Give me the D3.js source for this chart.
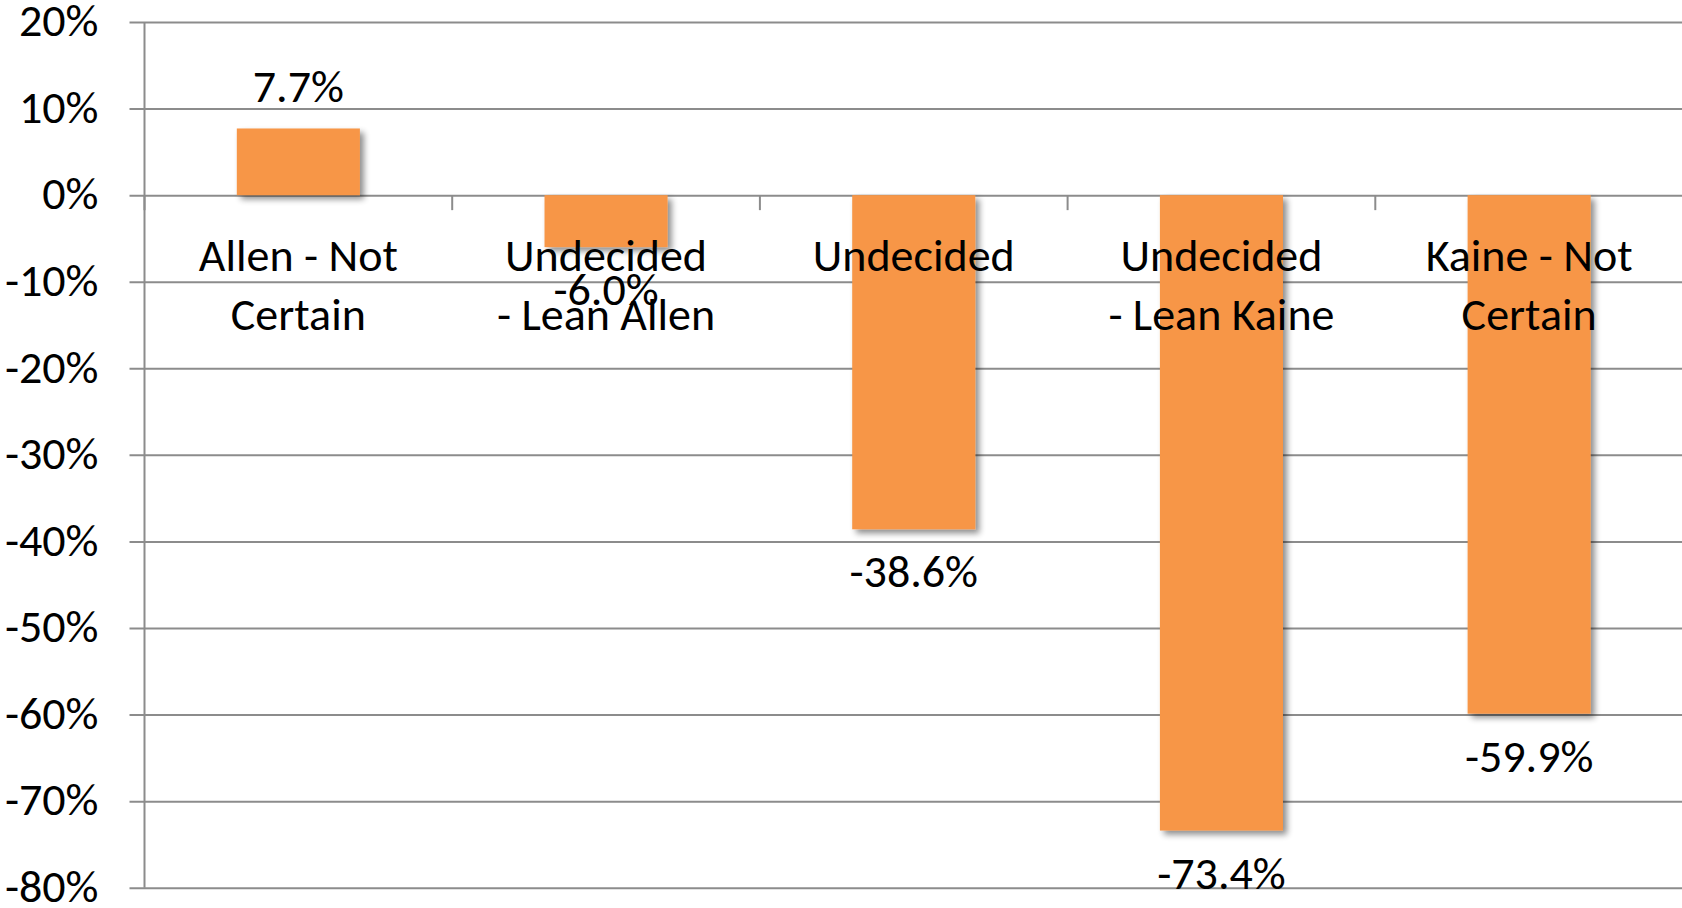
<!DOCTYPE html>
<html>
<head>
<meta charset="utf-8">
<script src="https://cdn.jsdelivr.net/npm/d3@7"></script>
<style>
  body { margin: 0; background: #fff; }
  svg text { font-family: Calibri, Carlito, Lato, sans-serif; fill: #000; }
</style>
</head>
<body>
<svg id="chart" width="1682" height="908"></svg>
<script>
'use strict';

// data
var categories = ['Allen - Not Certain', 'Undecided - Lean Allen', 'Undecided', 'Undecided - Lean Kaine', 'Kaine - Not Certain'];
var labelLines = [['Allen - Not', 'Certain'], ['Undecided', '- Lean Allen'], ['Undecided'], ['Undecided', '- Lean Kaine'], ['Kaine - Not', 'Certain']];
var values = [0.077, -0.060, -0.386, -0.734, -0.599];
var yTicks = [0.2, 0.1, 0, -0.1, -0.2, -0.3, -0.4, -0.5, -0.6, -0.7, -0.8];

var chartWidth = 1682,
  plotLeft = 144.5,
  plotTop = 22,
  plotBottom = 887.7,
  fontSize = 46;

// excel style hyphen minus
var locale = d3.formatLocale({ decimal: '.', thousands: ',', grouping: [3], currency: ['$', ''], minus: '-' });
var pct0 = locale.format('.0%'),
  pct1 = locale.format('.1%');

var svg = d3.select('#chart');

var y = d3.scaleLinear().domain([-0.8, 0.2]).range([plotBottom, plotTop]);
var x = d3.scaleBand().domain(categories).range([plotLeft, chartWidth + 1])
  .paddingInner(0.6).paddingOuter(0.3);
var step = x.step();

// drop shadow for bars
var filter = svg.append('defs').append('filter')
  .attr('id', 'shadow')
  .attr('x', '-20%').attr('y', '-20%')
  .attr('width', '150%').attr('height', '150%');
filter.append('feGaussianBlur')
  .attr('in', 'SourceAlpha')
  .attr('stdDeviation', 3)
  .attr('result', 'blur');
filter.append('feOffset')
  .attr('in', 'blur')
  .attr('dx', 4).attr('dy', 4)
  .attr('result', 'off');
filter.append('feComponentTransfer')
  .attr('in', 'off').attr('result', 'soft')
  .append('feFuncA').attr('type', 'linear').attr('slope', 0.45);
var merge = filter.append('feMerge');
merge.append('feMergeNode').attr('in', 'soft');
merge.append('feMergeNode').attr('in', 'SourceGraphic');

// gridlines + y axis
var yAxis = d3.axisLeft(y)
  .tickValues(yTicks)
  .tickSize(-(chartWidth - plotLeft))
  .tickPadding(0)
  .tickFormat(pct0);

var gy = svg.append('g')
  .attr('transform', 'translate(' + plotLeft + ',0)')
  .call(yAxis);
gy.attr('font-family', null).attr('font-size', null);
gy.select('.domain').remove();
gy.selectAll('.tick line')
  .attr('x1', -15)
  .attr('stroke', '#8c8c8c')
  .attr('stroke-width', 2);
gy.selectAll('.tick text')
  .attr('x', -46)
  .attr('dy', '0.3em')
  .attr('font-size', fontSize)
  .attr('fill', '#000');

svg.append('line')
  .attr('x1', plotLeft).attr('x2', plotLeft)
  .attr('y1', plotTop).attr('y2', plotBottom)
  .attr('stroke', '#8c8c8c')
  .attr('stroke-width', 2);

// category tick marks on the zero line
svg.append('g').selectAll('line')
  .data(d3.range(categories.length))
  .join('line')
  .attr('x1', i => plotLeft + i * step)
  .attr('x2', i => plotLeft + i * step)
  .attr('y1', y(0))
  .attr('y2', y(0) + 15)
  .attr('stroke', '#8c8c8c')
  .attr('stroke-width', 2);

// bars
svg.append('g').selectAll('rect')
  .data(values)
  .join('rect')
  .attr('x', (d, i) => x(categories[i]))
  .attr('width', x.bandwidth())
  .attr('y', d => y(Math.max(0, d)))
  .attr('height', d => Math.abs(y(d) - y(0)))
  .attr('fill', '#F79646')
  .attr('filter', 'url(#shadow)');

// category labels
var cats = svg.append('g').selectAll('text')
  .data(labelLines)
  .join('text')
  .attr('text-anchor', 'middle')
  .attr('font-size', fontSize)
  .attr('x', (d, i) => x(categories[i]) + x.bandwidth() / 2)
  .attr('y', 271);
cats.selectAll('tspan')
  .data(d => d)
  .join('tspan')
  .attr('x', function () { return this.parentNode.getAttribute('x'); })
  .attr('dy', (d, j) => j === 0 ? 0 : 59)
  .text(d => d);

// value labels
svg.append('g').selectAll('text')
  .data(values)
  .join('text')
  .attr('text-anchor', 'middle')
  .attr('font-size', fontSize)
  .attr('x', (d, i) => x(categories[i]) + x.bandwidth() / 2)
  .attr('y', d => d >= 0 ? y(d) - 26 : y(d) + 58)
  .text(d => pct1(d));
</script>
</body>
</html>
